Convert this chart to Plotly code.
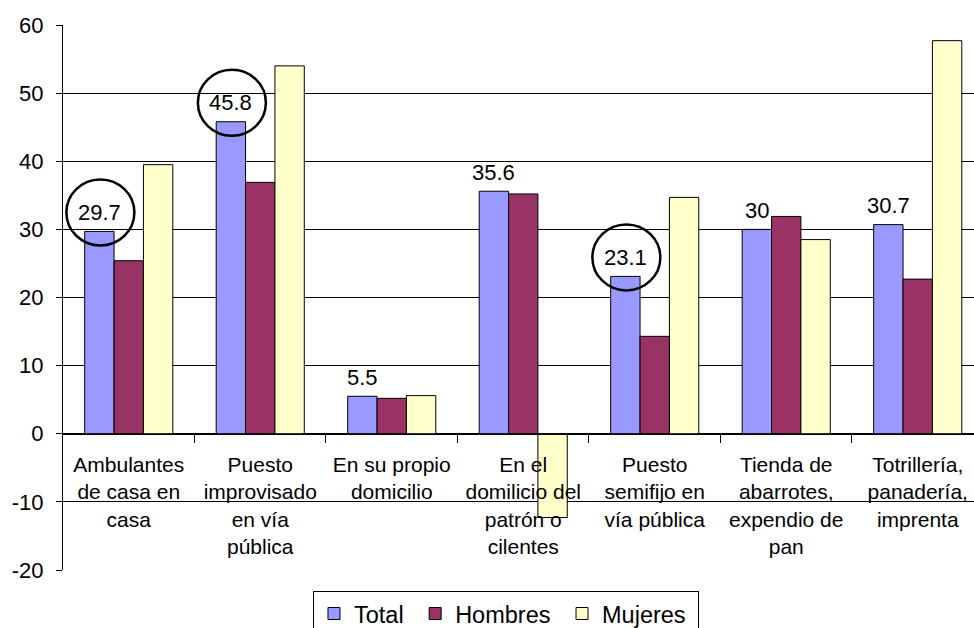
import plotly.graph_objects as go

categorias = [
    "Ambulantes<br>de casa en<br>casa",
    "Puesto<br>improvisado<br>en vía<br>pública",
    "En su propio<br>domicilio",
    "En el<br>domilicio del<br>patrón o<br>cilentes",
    "Puesto<br>semifijo en<br>vía pública",
    "Tienda de<br>abarrotes,<br>expendio de<br>pan",
    "Totrillería,<br>panadería,<br>imprenta",
]
total = [29.7, 45.8, 5.5, 35.6, 23.1, 30.0, 30.7]
hombres = [25.4, 36.9, 5.2, 35.2, 14.3, 31.9, 22.7]
mujeres = [39.5, 54.0, 5.6, -12.3, 34.7, 28.5, 57.7]
y_ticks = [-20, -10, 0, 10, 20, 30, 40, 50, 60]
# categories whose Total value is highlighted with a ring
resaltados = [0, 1, 4]

FONT = "Liberation Sans, Arial, sans-serif"
BARGAP = 0.33
N_SERIES = 3
n = len(categorias)
NBSP = "\u00a0"

fig = go.Figure()
for name, vals, color in [
    ("Total", total, "#9999FF"),
    ("Hombres", hombres, "#993366"),
    ("Mujeres", mujeres, "#FFFFCC"),
]:
    fig.add_trace(go.Bar(
        name=name + NBSP, x=list(range(n)), y=vals,
        marker=dict(color=color, line=dict(color="#000000", width=1)),
    ))

# centre of the Total bar inside each group (first of three bars)
bar_w = (1 - BARGAP) / N_SERIES
off_total = -bar_w

annotations = []
shapes = []
for i, v in enumerate(total):
    annotations.append(dict(
        x=i + off_total, y=v, xref="x", yref="y", text=f"{v:g}",
        showarrow=False, yshift=19, font=dict(family=FONT, size=22, color="#000"),
    ))
for i in resaltados:
    shapes.append(dict(
        type="circle", xref="x", yref="y", xsizemode="pixel", ysizemode="pixel",
        xanchor=i + off_total, yanchor=total[i],
        x0=-33, x1=35, y0=19 - 33, y1=19 + 33,
        line=dict(color="#000000", width=2.5),
    ))

fig.update_layout(
    width=974, height=628,
    margin=dict(l=63, r=0, t=25, b=58, autoexpand=False),
    paper_bgcolor="#FFFFFF", plot_bgcolor="#FFFFFF",
    barmode="group", bargap=BARGAP, bargroupgap=0,
    font=dict(family=FONT, size=22, color="#000000"),
    xaxis=dict(
        tickmode="array", tickvals=list(range(n)), ticktext=categorias,
        range=[-0.5, 6.428], anchor="free", position=0.25,
        showline=True, linecolor="#000000", linewidth=1,
        ticks="", showgrid=False, zeroline=False,
        minor=dict(tickvals=[k + 0.5 for k in range(n)], ticks="outside",
                   ticklen=8, tickcolor="#000000", showgrid=False),
        tickfont=dict(family=FONT, size=21, color="#000"),
        tickangle=0, ticklabelstandoff=12,
    ),
    yaxis=dict(
        range=[-20, 60], tickmode="array", tickvals=y_ticks,
        ticktext=[str(t) for t in y_ticks],
        showline=True, linecolor="#000000", linewidth=1,
        ticks="outside", ticklen=6, tickcolor="#000000",
        showgrid=True, gridcolor="#000000", gridwidth=1, zeroline=False,
        tickfont=dict(family=FONT, size=22, color="#000"),
        ticklabelstandoff=8,
    ),
    showlegend=True,
    legend=dict(
        orientation="h", x=0.2744, xanchor="left", y=-0.038, yanchor="top",
        bordercolor="#000000", borderwidth=1, font=dict(family=FONT, size=23.5),
    ),
    annotations=annotations, shapes=shapes,
)

fig.write_html("out.html")
